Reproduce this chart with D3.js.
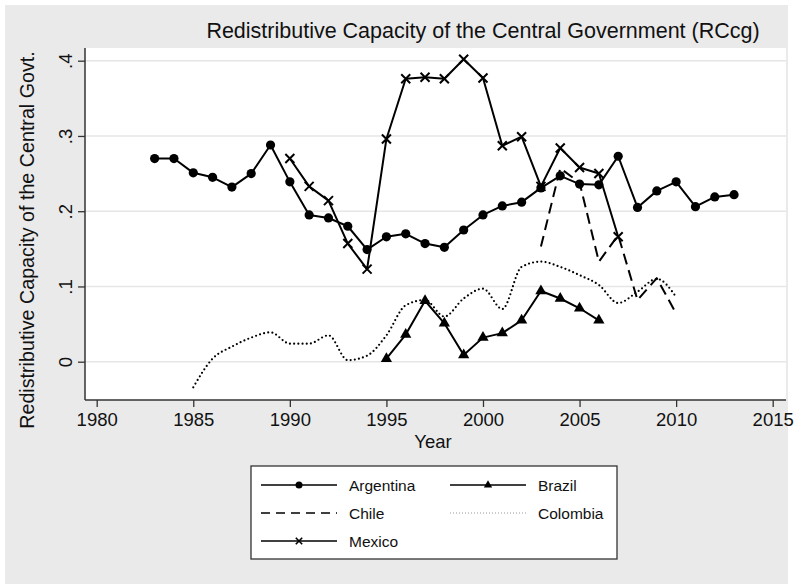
<!DOCTYPE html>
<html>
<head>
<meta charset="utf-8">
<script src="https://cdn.jsdelivr.net/npm/d3@7"></script>
<style>
  body { margin: 0; background: #ffffff; }
  text { font-family: "Liberation Sans", Arial, Helvetica, sans-serif; fill: #111; }
</style>
</head>
<body>
<div id="chart"></div>
<script>
// ---------- data
const argentinaYears = [1983, 1984, 1985, 1986, 1987, 1988, 1989, 1990, 1991, 1992, 1993, 1994, 1995, 1996, 1997, 1998, 1999, 2000, 2001, 2002, 2003, 2004, 2005, 2006, 2007, 2008, 2009, 2010, 2011, 2012, 2013]
const argentinaValues = [0.270, 0.270, 0.251, 0.245, 0.232, 0.250, 0.288, 0.239, 0.195, 0.191, 0.180, 0.149, 0.166, 0.170, 0.157, 0.152, 0.175, 0.195, 0.207, 0.212, 0.231, 0.247, 0.236, 0.235, 0.273, 0.205, 0.227, 0.239, 0.206, 0.219, 0.222]

const brazilYears = [1995, 1996, 1997, 1998, 1999, 2000, 2001, 2002, 2003, 2004, 2005, 2006]
const brazilValues = [0.004, 0.036, 0.081, 0.051, 0.009, 0.032, 0.038, 0.055, 0.094, 0.084, 0.071, 0.055]

const chileYears = [2003, 2004, 2005, 2006, 2007, 2008, 2009, 2010]
const chileValues = [0.153, 0.257, 0.238, 0.133, 0.168, 0.082, 0.111, 0.064]

const colombiaYears = [1985, 1986, 1987, 1988, 1989, 1990, 1991, 1992, 1993, 1994, 1995, 1996, 1997, 1998, 1999, 2000, 2001, 2002, 2003, 2004, 2005, 2006, 2007, 2008, 2009, 2010]
const colombiaValues = [-0.034, 0.004, 0.020, 0.032, 0.039, 0.024, 0.024, 0.035, 0.002, 0.008, 0.035, 0.075, 0.082, 0.060, 0.084, 0.097, 0.070, 0.126, 0.133, 0.126, 0.115, 0.102, 0.078, 0.093, 0.110, 0.086]

const mexicoYears = [1990, 1991, 1992, 1993, 1994, 1995, 1996, 1997, 1998, 1999, 2000, 2001, 2002, 2003, 2004, 2005, 2006, 2007]
const mexicoValues = [0.270, 0.233, 0.214, 0.157, 0.123, 0.296, 0.376, 0.378, 0.376, 0.402, 0.377, 0.287, 0.299, 0.233, 0.284, 0.258, 0.250, 0.166]

const xTicks = [1980, 1985, 1990, 1995, 2000, 2005, 2010, 2015]
const yTicks = [0, 0.1, 0.2, 0.3, 0.4]
const yTickLabels = ["0", ".1", ".2", ".3", ".4"]

const titleText = "Redistributive Capacity of the Central Government (RCcg)"
const yTitleText = "Redistributive Capacity of the Central Govt."
const xTitleText = "Year"

const countries = ["Argentina", "Brazil", "Chile", "Colombia", "Mexico"]

// ---------- dimensions
const dimensions = {
    width: 799,
    height: 584,
    plot: { left: 85, right: 786, top: 48, bottom: 400 }
}

const zip = (years, values) => years.map((y, i) => ({ year: y, value: values[i] }))
const series = [
    { name: countries[0], data: zip(argentinaYears, argentinaValues), marker: "circle", dash: null },
    { name: countries[1], data: zip(brazilYears, brazilValues), marker: "triangle", dash: null },
    { name: countries[2], data: zip(chileYears, chileValues), marker: null, dash: "11,6" },
    { name: countries[3], data: zip(colombiaYears, colombiaValues), marker: null, dash: "0,4.2" },
    { name: countries[4], data: zip(mexicoYears, mexicoValues), marker: "cross", dash: null }
]

// ---------- wrapper
const svg = d3.select("#chart")
    .append("svg")
    .attr("width", dimensions.width)
    .attr("height", dimensions.height)

// outer gray graph region
svg.append("rect")
    .attr("x", 5).attr("y", 5)
    .attr("width", 783).attr("height", 579)
    .attr("fill", "#eaeaea")

const p = dimensions.plot
svg.append("rect")
    .attr("x", p.left).attr("y", p.top)
    .attr("width", p.right - p.left).attr("height", p.bottom - p.top)
    .attr("fill", "#ffffff")

// ---------- scales
const xScale = d3.scaleLinear()
    .domain([1980, 2015])
    .range([96.7, 772.7])

const yScale = d3.scaleLinear()
    .domain([0, 0.4])
    .range([361.7, 60.7])

// ---------- grid
svg.append("g")
    .selectAll("line")
    .data(yTicks)
    .join("line")
    .attr("x1", p.left).attr("x2", p.right)
    .attr("y1", d => yScale(d)).attr("y2", d => yScale(d))
    .attr("stroke", "#e6e6e6")
    .attr("stroke-width", 1.5)

// ---------- axes
const xAxisGenerator = d3.axisBottom(xScale)
    .tickValues(xTicks)
    .tickFormat(d3.format("d"))
    .tickSizeInner(7)
    .tickSizeOuter(0)
    .tickPadding(6)

const xAxis = svg.append("g")
    .attr("transform", `translate(0,${p.bottom})`)
    .call(xAxisGenerator)
xAxis.select(".domain").attr("d", `M${p.left},0H${p.right}`).attr("stroke", "#333").attr("stroke-width", 1.5)
xAxis.selectAll(".tick line").attr("stroke", "#333").attr("stroke-width", 1.3)
xAxis.selectAll(".tick text")
    .style("font-family", "Liberation Sans, Arial, sans-serif")
    .style("font-size", "18.5px")
    .attr("fill", "#111")

const yAxisGenerator = d3.axisLeft(yScale)
    .tickValues(yTicks)
    .tickFormat((d, i) => yTickLabels[i])
    .tickSizeInner(7)
    .tickSizeOuter(0)
    .tickPadding(6)

const yAxis = svg.append("g")
    .attr("transform", `translate(${p.left},0)`)
    .call(yAxisGenerator)
yAxis.select(".domain").attr("d", `M0,${p.top}V${p.bottom}`).attr("stroke", "#333").attr("stroke-width", 1.5)
yAxis.selectAll(".tick line").attr("stroke", "#333").attr("stroke-width", 1.3)
yAxis.selectAll(".tick text")
    .attr("x", 0).attr("dy", 0)
    .attr("transform", "translate(-13,0) rotate(-90)")
    .attr("text-anchor", "middle")
    .style("font-family", "Liberation Sans, Arial, sans-serif")
    .style("font-size", "18.5px")
    .attr("fill", "#111")

// ---------- titles
svg.append("text")
    .attr("x", 483).attr("y", 38)
    .attr("text-anchor", "middle")
    .style("font-size", "21.5px")
    .text(titleText)

svg.append("text")
    .attr("transform", `translate(34,240) rotate(-90)`)
    .attr("text-anchor", "middle")
    .style("font-size", "19.7px")
    .text(yTitleText)

svg.append("text")
    .attr("x", 433).attr("y", 448)
    .attr("text-anchor", "middle")
    .style("font-size", "18.5px")
    .text(xTitleText)

// ---------- lines
const lineGenerator = d3.line()
    .x(d => xScale(d.year))
    .y(d => yScale(d.value))

const smoothLine = d3.line()
    .x(d => xScale(d.year))
    .y(d => yScale(d.value))
    .curve(d3.curveMonotoneX)

const lines = svg.append("g")

series.forEach(s => {
    lines.append("path")
        .datum(s.data)
        .attr("d", s.name === "Colombia" ? smoothLine : lineGenerator)
        .attr("fill", "none")
        .attr("stroke", "#000")
        .attr("stroke-width", s.name === "Colombia" ? 2.2 : 2)
        .attr("stroke-linecap", s.name === "Colombia" ? "round" : "butt")
        .attr("stroke-linejoin", "round")
        .attr("stroke-dasharray", s.dash)
})

// ---------- markers
const drawMarker = (g, type, size) => {
    if (type === "circle") {
        g.append("circle").attr("r", size).attr("fill", "#000")
    } else if (type === "triangle") {
        g.append("path")
            .attr("d", d3.symbol().type(d3.symbolTriangle).size(size))
            .attr("fill", "#000")
    } else if (type === "cross") {
        g.append("path")
            .attr("d", `M${-size},${-size}L${size},${size}M${-size},${size}L${size},${-size}`)
            .attr("stroke", "#000")
            .attr("stroke-width", 2)
            .attr("fill", "none")
    }
}

const markerSize = { circle: 4.6, triangle: 55, cross: 4.5 }
const legendMarkerSize = { circle: 3.5, triangle: 30, cross: 3.2 }

series.filter(s => s.marker).forEach(s => {
    const marks = svg.append("g")
        .selectAll("g")
        .data(s.data)
        .join("g")
        .attr("transform", d => `translate(${xScale(d.year)},${yScale(d.value)})`)
    marks.each(function () {
        drawMarker(d3.select(this), s.marker, markerSize[s.marker])
    })
})

// ---------- legend
const legend = svg.append("g")
legend.append("rect")
    .attr("x", 251).attr("y", 466)
    .attr("width", 366).attr("height", 93)
    .attr("fill", "#fff")
    .attr("stroke", "#333")
    .attr("stroke-width", 1.3)

const legendPos = [
    { col: 0, row: 0 }, { col: 1, row: 0 },
    { col: 0, row: 1 }, { col: 1, row: 1 },
    { col: 0, row: 2 }
]
const legendCols = [261, 450]
const legendRows = [485, 513, 541]

series.forEach((s, i) => {
    const pos = legendPos[i]
    const x0 = legendCols[pos.col]
    const y0 = legendRows[pos.row]
    const item = legend.append("g").attr("transform", `translate(${x0},${y0})`)
    item.append("line")
        .attr("x1", 0).attr("x2", 76)
        .attr("stroke", s.name === "Colombia" ? "#999" : "#000")
        .attr("stroke-width", s.name === "Colombia" ? 1 : 1.6)
        .attr("stroke-dasharray", s.name === "Chile" ? "9,6" : (s.name === "Colombia" ? "1,2" : null))
    if (s.marker) {
        const m = item.append("g").attr("transform", "translate(38,0)")
        drawMarker(m, s.marker, legendMarkerSize[s.marker])
        m.selectAll("path").attr("stroke-width", s.marker === "cross" ? 1.6 : null)
    }
    item.append("text")
        .attr("x", 88).attr("y", 5.5)
        .style("font-size", "15.5px")
        .text(s.name)
})
</script>
</body>
</html>
